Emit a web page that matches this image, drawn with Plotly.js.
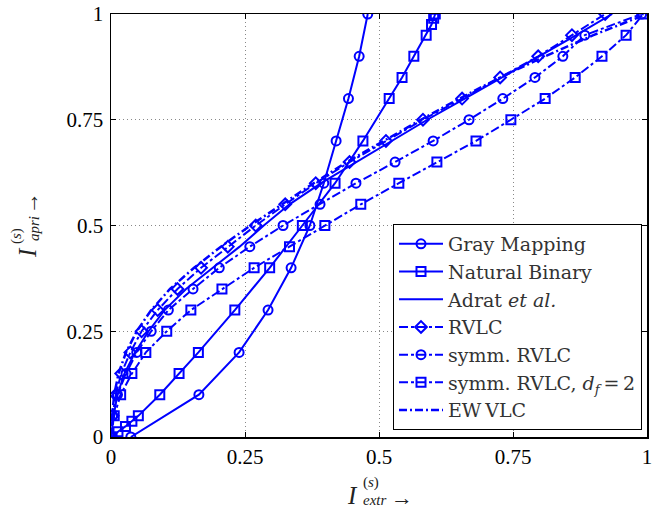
<!DOCTYPE html>
<html><head><meta charset="utf-8">
<script src="https://cdn.plot.ly/plotly-3.0.1.min.js"></script>
<style>html,body{margin:0;padding:0;background:#fff}#chart{width:657px;height:512px}</style>
</head><body><div id="chart"></div>
<script>
// ---- data ----
const grayX = [0.037,0.164,0.239,0.293,0.336,0.371,0.397,0.42,0.443,0.463,0.479];
const grayY = [0,0.1,0.2,0.3,0.4,0.5,0.6,0.7,0.8,0.9,1.0];
const nbX = [0.002,0.013,0.027,0.039,0.051,0.091,0.127,0.163,0.231,0.296,0.357,0.418,0.47,0.519,0.543,0.565,0.588,0.598,0.602,0.605];
const nbY = [0,0.0125,0.025,0.0375,0.05,0.1,0.15,0.2,0.3,0.4,0.5,0.6,0.7,0.8,0.85,0.9,0.95,0.975,0.99,1.0];
const stepY = [0,0.05,0.1,0.15,0.2,0.25,0.3,0.35,0.4,0.45,0.5,0.55,0.6,0.65,0.7,0.75,0.8,0.85,0.9,0.95,1.0];
const adratX = [0,0.005,0.012,0.025,0.045,0.07,0.1,0.14,0.19,0.24,0.285,0.333,0.392,0.458,0.525,0.59,0.66,0.73,0.8,0.868,0.935];
const rvlcX = [0,0.003,0.009,0.019,0.036,0.057,0.087,0.124,0.168,0.218,0.27,0.325,0.382,0.445,0.513,0.582,0.655,0.726,0.797,0.86,0.922];
const symmX = [0,0.003,0.012,0.028,0.048,0.075,0.107,0.153,0.202,0.259,0.321,0.39,0.457,0.53,0.601,0.668,0.731,0.791,0.843,0.884,0.99];
const df2X = [0,0.006,0.018,0.039,0.065,0.104,0.149,0.207,0.267,0.333,0.399,0.466,0.537,0.608,0.681,0.746,0.81,0.866,0.916,0.961,0.993];
const ewX = [0,0.002,0.006,0.014,0.028,0.048,0.075,0.11,0.155,0.205,0.26,0.318,0.378,0.44,0.508,0.578,0.65,0.726,0.81,0.9,1.0];
const tickVals = [0,0.25,0.5,0.75,1];
const tickText = ['0','0.25','0.5','0.75','1'];
const names = ['Gray Mapping','Natural Binary','Adrat <i>et al.</i>','RVLC','symm. RVLC','symm. RVLC, <i>d<sub>f</sub></i>\u2009=\u20092','EW\u2009VLC'];

const blue = '#0000ff';
const serif = 'Liberation Serif, DejaVu Serif, serif';
function tr(x, y, name, dash, symbol) {
  const t = {x: x, y: y, name: name, type: 'scatter',
    mode: symbol ? 'lines+markers' : 'lines',
    line: {color: blue, width: 2, dash: dash}};
  if (symbol) t.marker = {symbol: symbol, size: 9, color: blue, line: {color: blue, width: 2}};
  return t;
}
const data = [
  tr(grayX, grayY, names[0], 'solid', 'circle-open'),
  tr(nbX, nbY, names[1], 'solid', 'square-open'),
  tr(adratX, stepY, names[2], 'solid', null),
  tr(rvlcX, stepY, names[3], 'dashdot', 'diamond-open'),
  tr(symmX, stepY, names[4], 'dashdot', 'circle-open'),
  tr(df2X, stepY, names[5], 'dashdot', 'square-open'),
  tr(ewX, stepY, names[6], '8px,3px,2px,3px', null)
];
data[6].line.width = 2.5;

const axisCommon = {
  range: [0, 1], tickvals: tickVals, ticktext: tickText,
  ticks: 'inside', ticklen: 5, tickcolor: '#000', tickwidth: 1,
  showline: true, linecolor: '#000', linewidth: 1.5, mirror: 'ticks',
  showgrid: true, gridcolor: '#888', griddash: '1px,3px', gridwidth: 1,
  zeroline: false, tickfont: {family: serif, size: 21, color: '#000'}
};
const L = 111, R = 10, T = 14, B = 75, W = 657, H = 512;
const pw = W - L - R, ph = H - T - B;
function px(xp) { return (xp - L) / pw; }
function py(yp) { return (H - B - yp) / ph; }
const ann = [
  // x-axis title
  {text: '<i>I</i>', x: px(352), y: py(495), size: 25},
  {text: '(<i>s</i>)', x: px(371), y: py(482), size: 15},
  {text: '<i>extr</i>', x: px(374), y: py(500), size: 15},
  {text: '\u2192', x: px(402), y: py(497), size: 22}
].map(a => ({text: a.text, x: a.x, y: a.y, xref: 'paper', yref: 'paper', showarrow: false,
  xanchor: 'center', yanchor: 'middle', font: {family: serif, size: a.size, color: '#222'}}));
const yann = [
  {text: '<i>I</i>', x: px(27), y: py(253), size: 25},
  {text: '(<i>s</i>)', x: px(16), y: py(236), size: 15},
  {text: '<i>apri</i>', x: px(34), y: py(229), size: 15},
  {text: '\u2192', x: px(30), y: py(203), size: 22}
].map(a => ({text: a.text, x: a.x, y: a.y, xref: 'paper', yref: 'paper', showarrow: false,
  textangle: -90, xanchor: 'center', yanchor: 'middle', font: {family: serif, size: a.size, color: '#222'}}));

const layout = {
  width: W, height: H, margin: {l: L, r: R, t: T, b: B},
  paper_bgcolor: '#fff', plot_bgcolor: '#fff', showlegend: true,
  xaxis: Object.assign({}, axisCommon, {tickangle: 0}),
  yaxis: Object.assign({}, axisCommon, {ticklabelstandoff: 2}),
  legend: {x: px(642), y: py(430), xanchor: 'right', yanchor: 'bottom',
    bgcolor: '#fff', bordercolor: '#000', borderwidth: 1, itemwidth: 44,
    font: {family: 'DejaVu Serif, serif', size: 19, color: '#333'}, tracegroupgap: 0},
  annotations: ann.concat(yann)
};
Plotly.newPlot('chart', data, layout, {staticPlot: true, displayModeBar: false});
</script></body></html>
